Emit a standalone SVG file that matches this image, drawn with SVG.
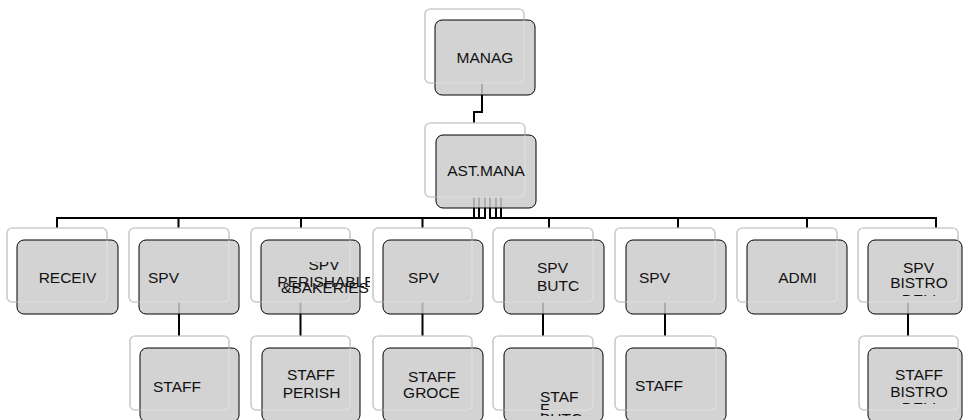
<svg xmlns="http://www.w3.org/2000/svg" width="964" height="420" viewBox="0 0 964 420">
<style>
.bk{fill:#fff;stroke:#9a9a9a;stroke-width:1.2}
.bo{fill:none;stroke:#fff;stroke-opacity:.5;stroke-width:1.2}
.fr{fill:#cbcbcb;fill-opacity:.85;stroke:#000;stroke-width:1}
.t{font-family:"Liberation Sans",Arial,sans-serif;font-size:15.5px;fill:#111}
.m{text-anchor:middle}
.c{fill:none;stroke:#000;stroke-width:2}
</style>
<defs>
<clipPath id="cp2"><rect x="250" y="262" width="120" height="60"/></clipPath>
<clipPath id="cp7"><rect x="860" y="240" width="104" height="56"/></clipPath>
<clipPath id="cs7"><rect x="860" y="348" width="104" height="56"/></clipPath>
<clipPath id="cs4"><rect x="500" y="348" width="110" height="62"/><rect x="500" y="413" width="110" height="3"/></clipPath>
</defs>
<rect width="964" height="420" fill="#fff"/>
<g id="connectors">
<path class="c" d="M482 83V112H474V123"/>
<path class="c" d="M474 197V218H57V228"/>
<path class="c" d="M479 197V218H178.5V228"/>
<path class="c" d="M485 197V218H301V228"/>
<path class="c" d="M485 197V218H422.5V228"/>
<path class="c" d="M490 197V218H549V228"/>
<path class="c" d="M496 197V218H678V228"/>
<path class="c" d="M501 197V218H807V228"/>
<path class="c" d="M501 197V218H936V228"/>
<path class="c" d="M179 302V336"/>
<path class="c" d="M300.5 302V336"/>
<path class="c" d="M422.5 302V336"/>
<path class="c" d="M543 302V336"/>
<path class="c" d="M665 302V336"/>
<path class="c" d="M908 302V336"/>
</g>
<g id="n-manag"><rect class="bk" x="425" y="9" width="99" height="74" rx="5"/><rect class="fr" x="435" y="20" width="100" height="75" rx="7"/><rect class="bo" x="425" y="9" width="99" height="74" rx="5"/><text class="t m" x="485" y="63">MANAG</text></g>
<g id="n-ast"><rect class="bk" x="425" y="123" width="100" height="74" rx="5"/><rect class="fr" x="436" y="135" width="100" height="73" rx="7"/><rect class="bo" x="425" y="123" width="100" height="74" rx="5"/><text class="t m" x="486" y="176">AST.MANA</text></g>
<g id="n-receiv"><rect class="bk" x="7" y="228" width="100" height="74" rx="5"/><rect class="fr" x="17" y="240" width="101" height="74" rx="7"/><rect class="bo" x="7" y="228" width="100" height="74" rx="5"/><text class="t m" x="67.5" y="283">RECEIV</text></g>
<g id="n-spv1"><rect class="bk" x="129" y="228" width="100" height="74" rx="5"/><rect class="fr" x="139" y="240" width="100" height="74" rx="7"/><rect class="bo" x="129" y="228" width="100" height="74" rx="5"/><text class="t" x="148" y="283">SPV</text></g>
<g id="n-spv2"><rect class="bk" x="251" y="228" width="99" height="74" rx="5"/><rect class="fr" x="261" y="240" width="99" height="74" rx="7"/><rect class="bo" x="251" y="228" width="99" height="74" rx="5"/><g clip-path="url(#cp2)"><text class="t m" x="324" y="270">SPV</text><text class="t m" x="325" y="293">&amp;BAKERIES</text><text class="t m" x="326" y="287">PERISHABLE</text></g></g>
<g id="n-spv3"><rect class="bk" x="373" y="228" width="99" height="74" rx="5"/><rect class="fr" x="383" y="240" width="100" height="74" rx="7"/><rect class="bo" x="373" y="228" width="99" height="74" rx="5"/><text class="t" x="408" y="283">SPV</text></g>
<g id="n-spv4"><rect class="bk" x="493" y="228" width="100" height="74" rx="5"/><rect class="fr" x="504" y="240" width="100" height="74" rx="7"/><rect class="bo" x="493" y="228" width="100" height="74" rx="5"/><text class="t" x="537" y="273">SPV</text><text class="t" x="537" y="291">BUTC</text></g>
<g id="n-spv5"><rect class="bk" x="615" y="228" width="100" height="74" rx="5"/><rect class="fr" x="626" y="240" width="100" height="74" rx="7"/><rect class="bo" x="615" y="228" width="100" height="74" rx="5"/><text class="t" x="639" y="283">SPV</text></g>
<g id="n-admi"><rect class="bk" x="737" y="228" width="100" height="74" rx="5"/><rect class="fr" x="747" y="240" width="100" height="74" rx="7"/><rect class="bo" x="737" y="228" width="100" height="74" rx="5"/><text class="t m" x="797.5" y="283">ADMI</text></g>
<g id="n-spv7"><rect class="bk" x="858" y="228" width="100" height="74" rx="5"/><rect class="fr" x="868" y="240" width="94" height="74" rx="7"/><rect class="bo" x="858" y="228" width="100" height="74" rx="5"/><g clip-path="url(#cp7)"><text class="t m" x="918.5" y="273">SPV</text><text class="t m" x="919" y="288">BISTRO</text><text class="t m" x="919" y="305">DELI</text></g></g>
<g id="n-staff1"><rect class="bk" x="130" y="336" width="99" height="74" rx="5"/><rect class="fr" x="140" y="348" width="99" height="74" rx="7"/><rect class="bo" x="130" y="336" width="99" height="74" rx="5"/><text class="t" x="153" y="392">STAFF</text></g>
<g id="n-staff2"><rect class="bk" x="251" y="336" width="99" height="74" rx="5"/><rect class="fr" x="262" y="348" width="98" height="74" rx="7"/><rect class="bo" x="251" y="336" width="99" height="74" rx="5"/><text class="t m" x="311" y="380">STAFF</text><text class="t m" x="311.5" y="398">PERISH</text></g>
<g id="n-staff3"><rect class="bk" x="373" y="336" width="99" height="74" rx="5"/><rect class="fr" x="383" y="348" width="100" height="74" rx="7"/><rect class="bo" x="373" y="336" width="99" height="74" rx="5"/><text class="t m" x="432" y="382">STAFF</text><text class="t m" x="431.5" y="398">GROCE</text></g>
<g id="n-staff4"><rect class="bk" x="493" y="336" width="100" height="74" rx="5"/><rect class="fr" x="504" y="348" width="99" height="74" rx="7"/><rect class="bo" x="493" y="336" width="100" height="74" rx="5"/><g clip-path="url(#cs4)"><text class="t" x="540" y="402">STAF</text><text class="t" x="540" y="414">F</text><text class="t" x="540" y="424">BUTC</text></g></g>
<g id="n-staff5"><rect class="bk" x="615" y="336" width="101" height="74" rx="5"/><rect class="fr" x="626" y="348" width="100" height="74" rx="7"/><rect class="bo" x="615" y="336" width="101" height="74" rx="5"/><text class="t" x="635" y="391">STAFF</text></g>
<g id="n-staff7"><rect class="bk" x="859" y="336" width="99" height="74" rx="5"/><rect class="fr" x="868" y="348" width="94" height="74" rx="7"/><rect class="bo" x="859" y="336" width="99" height="74" rx="5"/><g clip-path="url(#cs7)"><text class="t m" x="919" y="380">STAFF</text><text class="t m" x="919" y="397">BISTRO</text><text class="t m" x="919" y="413">DELI</text></g></g>
</svg>
